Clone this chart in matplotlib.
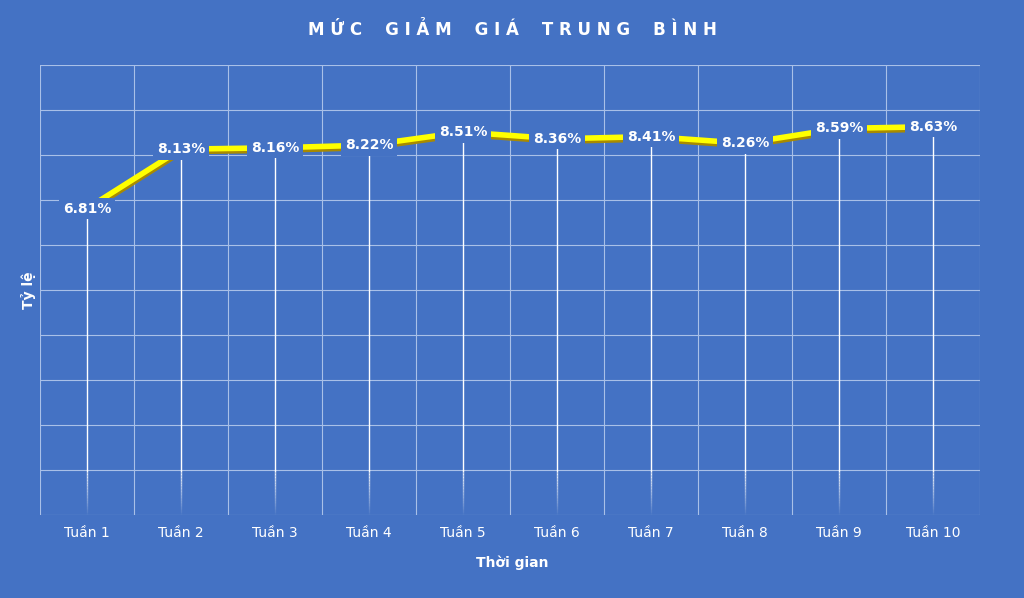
import matplotlib
matplotlib.use("Agg")
import matplotlib.pyplot as plt
import matplotlib.patheffects as pe
import numpy as np

BG = "#4472C4"

weeks = ["Tuần 1", "Tuần 2", "Tuần 3", "Tuần 4", "Tuần 5",
         "Tuần 6", "Tuần 7", "Tuần 8", "Tuần 9", "Tuần 10"]
rates = [6.81, 8.13, 8.16, 8.22, 8.51, 8.36, 8.41, 8.26, 8.59, 8.63]

fig = plt.figure(figsize=(10.24, 5.98), dpi=100)
fig.patch.set_facecolor(BG)
ax = fig.add_axes([40 / 1024, 83 / 598, 940 / 1024, 450 / 598])
ax.set_facecolor(BG)

xs = np.arange(len(weeks))
ax.set_xlim(-0.5, len(weeks) - 0.5)
ax.set_ylim(0, 10)

# grid
for y in range(0, 11):
    ax.axhline(y, color="#A9C0E8", lw=0.8, zorder=1)
for x in np.arange(-0.5, len(weeks), 1.0):
    ax.axvline(x, color="#A9C0E8", lw=0.8, zorder=1)

# drop lines, fading near the bottom
for x, v in zip(xs, rates):
    ax.plot([x, x], [1.0, v], color="white", lw=1.0, zorder=2)
    steps = np.linspace(1.0, 0, 30)
    for i in range(len(steps) - 1):
        ax.plot([x, x], [steps[i + 1], steps[i]], color="white",
                lw=1.0, alpha=1 - (i + 1) / 30, zorder=2,
                solid_capstyle="butt")

ax.plot(xs, rates, color="#FFFF00", lw=4, zorder=3, solid_capstyle="butt",
        path_effects=[pe.SimpleLineShadow(offset=(0.5, -1.8), shadow_color="#A88A00", alpha=1),
                      pe.Normal()])

for x, v in zip(xs, rates):
    ax.text(x, v, f"{v:.2f}%", ha="center", va="center", color="white",
            fontsize=10, fontweight="bold", zorder=4,
            bbox=dict(boxstyle="square,pad=0.25", fc=BG, ec="none"))

ax.set_xticks(xs)
ax.set_xticklabels(weeks, color="white", fontsize=10)
ax.set_yticks([])
ax.tick_params(axis="x", length=0, pad=8)
for s in ax.spines.values():
    s.set_visible(False)

fig.text(0.5, 1 - 30 / 598, " ".join("MỨC GIẢM GIÁ TRUNG BÌNH").replace("   ", "    "),
         ha="center", va="center", color="white", fontsize=12, fontweight="bold")
fig.text(0.5, 1 - 563 / 598, "Thời gian", ha="center", va="center",
         color="white", fontsize=10, fontweight="bold")
fig.text(28 / 1024, 1 - 290 / 598, "Tỷ lệ", ha="center", va="center",
         color="white", fontsize=10, fontweight="bold", rotation=90)

fig.savefig("out.png", dpi=100, facecolor=BG)
